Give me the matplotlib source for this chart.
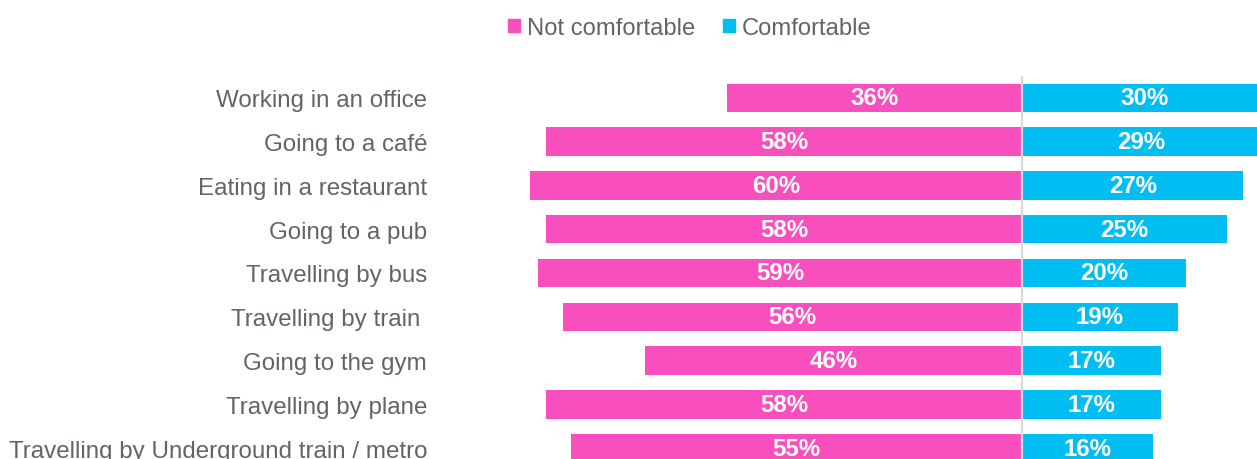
import matplotlib
matplotlib.use("Agg")
import matplotlib.pyplot as plt
from matplotlib.patches import Patch

categories = [
    "Working in an office",
    "Going to a café",
    "Eating in a restaurant",
    "Going to a pub",
    "Travelling by bus",
    "Travelling by train ",
    "Going to the gym",
    "Travelling by plane",
    "Travelling by Underground train / metro",
]
not_comfortable = [36, 58, 60, 58, 59, 56, 46, 58, 55]
comfortable = [30, 29, 27, 25, 20, 19, 17, 17, 16]
series_names = ["Not comfortable", "Comfortable"]

PINK = "#F94FBE"
CYAN = "#00BDF2"
TEXT = "#5f6664"

plt.rcParams["font.family"] = ["Liberation Sans", "DejaVu Sans"]

W, H = 1257, 460
fig = plt.figure(figsize=(W / 100, H / 100), dpi=100)
ax = fig.add_axes([430 / W, 0, 1 - 430 / W, 383 / H])

y = list(range(len(categories)))
ax.barh(y, [-v for v in not_comfortable], height=0.65, color=PINK, left=0)
ax.barh(y, comfortable, height=0.65, color=CYAN, left=0)
ax.axvline(0, color="#d9d9d9", lw=1.6, zorder=5)

for i, (n, c) in enumerate(zip(not_comfortable, comfortable)):
    ax.text(-n / 2, i, f"{n}%", ha="center", va="center", color="white",
            fontsize=17.3, fontweight="bold")
    ax.text(c / 2, i, f"{c}%", ha="center", va="center", color="white",
            fontsize=17.3, fontweight="bold")

ax.set_xlim(-72.2, 28.66)
ax.set_ylim(8.25, -0.5)
ax.set_yticks(y)
ax.set_yticklabels(categories, fontsize=17.4, color=TEXT)
ax.tick_params(axis="y", length=0, pad=2)
ax.set_xticks([])
for s in ax.spines.values():
    s.set_visible(False)

handles = [Patch(color=PINK), Patch(color=CYAN)]
fig.legend(handles, series_names, loc="center", bbox_to_anchor=(690 / W, 1 - 29 / H),
           ncol=2, frameon=False, fontsize=17.1, handlelength=0.5, handleheight=0.5,
           handletextpad=0.3, columnspacing=1.15, labelcolor=TEXT)

fig.savefig("out.png", dpi=100)
